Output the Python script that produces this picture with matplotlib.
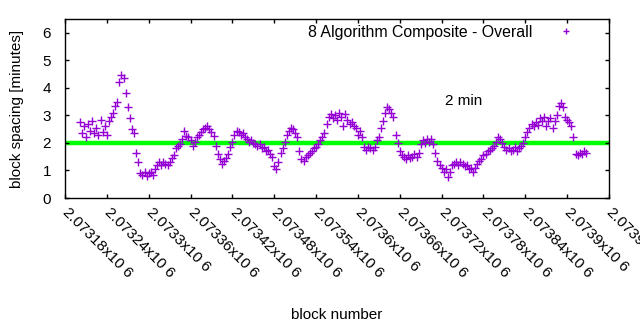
import numpy as np
import matplotlib
matplotlib.use('Agg')
import matplotlib.pyplot as plt

# Block heights (every third block) and the composite block spacing in minutes
blocks = [
	2073201, 2073204, 2073207, 2073210, 2073213, 2073216, 2073219, 2073222, 2073225, 2073228, 2073231, 2073234,
	2073237, 2073240, 2073243, 2073246, 2073249, 2073252, 2073255, 2073258, 2073261, 2073264, 2073267, 2073270,
	2073273, 2073276, 2073279, 2073282, 2073285, 2073288, 2073291, 2073294, 2073297, 2073300, 2073303, 2073306,
	2073309, 2073312, 2073315, 2073318, 2073321, 2073324, 2073327, 2073330, 2073333, 2073336, 2073339, 2073342,
	2073345, 2073348, 2073351, 2073354, 2073357, 2073360, 2073363, 2073366, 2073369, 2073372, 2073375, 2073378,
	2073381, 2073384, 2073387, 2073390, 2073393, 2073396, 2073399, 2073402, 2073405, 2073408, 2073411, 2073414,
	2073417, 2073420, 2073423, 2073426, 2073429, 2073432, 2073435, 2073438, 2073441, 2073444, 2073447, 2073450,
	2073453, 2073456, 2073459, 2073462, 2073465, 2073468, 2073471, 2073474, 2073477, 2073480, 2073483, 2073486,
	2073489, 2073492, 2073495, 2073498, 2073501, 2073504, 2073507, 2073510, 2073513, 2073516, 2073519, 2073522,
	2073525, 2073528, 2073531, 2073534, 2073537, 2073540, 2073543, 2073546, 2073549, 2073552, 2073555, 2073558,
	2073561, 2073564, 2073567, 2073570, 2073573, 2073576, 2073579, 2073582, 2073585, 2073588, 2073591, 2073594,
	2073597, 2073600, 2073603, 2073606, 2073609, 2073612, 2073615, 2073618, 2073621, 2073624, 2073627, 2073630,
	2073633, 2073636, 2073639, 2073642, 2073645, 2073648, 2073651, 2073654, 2073657, 2073660, 2073663, 2073666,
	2073669, 2073672, 2073675, 2073678, 2073681, 2073684, 2073687, 2073690, 2073693, 2073696, 2073699, 2073702,
	2073705, 2073708, 2073711, 2073714, 2073717, 2073720, 2073723, 2073726, 2073729, 2073732, 2073735, 2073738,
	2073741, 2073744, 2073747, 2073750, 2073753, 2073756, 2073759, 2073762, 2073765, 2073768, 2073771, 2073774,
	2073777, 2073780, 2073783, 2073786, 2073789, 2073792, 2073795, 2073798, 2073801, 2073804, 2073807, 2073810,
	2073813, 2073816, 2073819, 2073822, 2073825, 2073828, 2073831, 2073834, 2073837, 2073840, 2073843, 2073846,
	2073849, 2073852, 2073855, 2073858, 2073861, 2073864, 2073867, 2073870, 2073873, 2073876, 2073879, 2073882,
	2073885, 2073888, 2073891, 2073894, 2073897, 2073900, 2073903, 2073906, 2073909, 2073912, 2073915, 2073918,
	2073921, 2073924, 2073927,
]
spacing = [
	2.75, 2.35, 2.6, 2.2, 2.7, 2.45, 2.8, 2.35, 2.55, 2.3, 2.85, 2.4,
	2.6, 2.3, 2.8, 2.95, 3.1, 3.35, 3.5, 4.2, 4.45, 4.35, 3.8, 3.3,
	2.9, 2.5, 2.35, 1.65, 1.3, 0.9, 0.85, 0.95, 0.8, 0.9, 0.95, 0.85,
	1.05, 1.2, 1.3, 1.2, 1.3, 1.25, 1.2, 1.3, 1.45, 1.55, 1.8, 1.9,
	1.95, 2.15, 2.45, 2.25, 2.2, 2.1, 1.9, 2.05, 2.2, 2.3, 2.4, 2.5,
	2.55, 2.6, 2.5, 2.4, 2.25, 1.9, 1.6, 1.4, 1.25, 1.35, 1.45, 1.6,
	1.85, 2.05, 2.3, 2.45, 2.4, 2.3, 2.35, 2.2, 2.15, 2.05, 2.1, 2.0,
	1.95, 1.9, 1.95, 1.8, 1.85, 1.7, 1.75, 1.6, 1.5, 1.15, 1.05, 1.3,
	1.65, 1.8, 2.05, 2.3, 2.45, 2.55, 2.5, 2.35, 2.2, 1.7, 1.4, 1.35,
	1.5, 1.55, 1.65, 1.7, 1.8, 1.85, 1.95, 2.1, 2.2, 2.35, 2.7, 2.95,
	3.05, 2.9, 3.0, 2.85, 3.1, 2.95, 2.6, 3.05, 2.85, 2.7, 2.75, 2.6,
	2.55, 2.3, 2.45, 2.2, 1.85, 1.75, 1.85, 1.8, 1.75, 1.85, 2.1, 2.2,
	2.55, 2.8, 3.1, 3.3, 3.25, 3.1, 2.95, 2.3, 2.0, 1.7, 1.55, 1.5,
	1.4, 1.55, 1.45, 1.5, 1.6, 1.5, 1.65, 1.95, 2.1, 2.0, 2.15, 2.05,
	2.15, 1.95, 1.65, 1.35, 1.2, 1.1, 0.95, 1.05, 0.75, 0.95, 1.2, 1.25,
	1.3, 1.2, 1.3, 1.25, 1.15, 1.2, 1.05, 1.1, 0.95, 1.1, 1.25, 1.35,
	1.4, 1.55, 1.6, 1.7, 1.75, 1.8, 1.9, 2.05, 2.2, 2.15, 2.0, 1.85,
	1.75, 1.8, 1.7, 1.75, 1.85, 1.7, 1.8, 1.9, 2.0, 2.2, 2.4, 2.55,
	2.7, 2.6, 2.75, 2.65, 2.9, 2.8, 2.95, 2.6, 2.8, 2.9, 2.55, 2.8,
	3.0, 3.35, 3.45, 3.3, 2.95, 2.85, 2.75, 2.6, 2.2, 1.6, 1.55, 1.65,
	1.6, 1.7, 1.65,
]
target = 2.0  # minutes

xticks = [2073180, 2073240, 2073300, 2073360, 2073420, 2073480, 2073540,
	2073600, 2073660, 2073720, 2073780, 2073840, 2073900, 2073960]
xticklabels = ['2.07318x10 6', '2.07324x10 6', '2.0733x10 6', '2.07336x10 6', '2.07342x10 6',
	'2.07348x10 6', '2.07354x10 6', '2.0736x10 6', '2.07366x10 6', '2.07372x10 6',
	'2.07378x10 6', '2.07384x10 6', '2.0739x10 6', '2.07396x10 6']

plt.rcParams['font.family'] = ['Liberation Sans', 'DejaVu Sans']
plt.rcParams['font.size'] = 11

fig = plt.figure(figsize=(6.4, 3.3), dpi=100)
ax = fig.add_axes([65 / 640, 1 - 198 / 330, 544 / 640, 179 / 330])

ax.axhline(target, color='#00ff00', lw=3.2, zorder=1)
ax.plot(blocks, spacing, ls='none', marker='+', ms=5.5, mew=1.0, color='#9400d3',
	label='8 Algorithm Composite - Overall', zorder=2)

ax.set_xlim(2073180, 2073960)
ax.set_ylim(0, 6.5)
ax.set_yticks([0, 1, 2, 3, 4, 5, 6])
ax.set_xticks(xticks)
ax.set_xticklabels(xticklabels)
ax.tick_params(direction='in', length=3, width=1, top=True, right=True)
ax.tick_params(axis='y', pad=10)
ax.tick_params(axis='x', pad=8.5)
plt.setp(ax.get_xticklabels(), rotation=-45, ha='left', va='center', rotation_mode='anchor')
for s in ax.spines.values():
	s.set_linewidth(1.0)

ax.text(2073725, 3.53, '2 min', ha='left', va='center')

ax.legend(loc='upper right', bbox_to_anchor=(0.95, 0.968), markerfirst=False, frameon=False,
	borderaxespad=0, borderpad=0, handletextpad=1.15, handlelength=2.0, markerscale=0.85,
	fontsize=11.4)

fig.text(17 / 640, 1 - 108.5 / 330, 'block spacing [minutes]', rotation=90, ha='center', va='center')
fig.text(337 / 640, 1 - 315 / 330, 'block number', ha='center', va='center')

fig.savefig('out.png', dpi=100)
